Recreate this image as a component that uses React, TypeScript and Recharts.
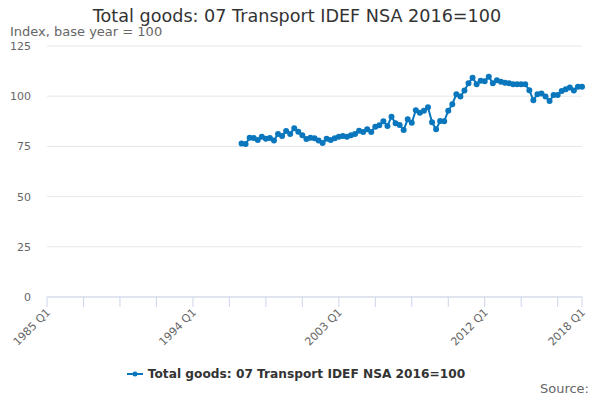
import { LineChart, Line, XAxis, YAxis, CartesianGrid, Legend } from "recharts";

const seriesName = "Total goods: 07 Transport IDEF NSA 2016=100";

// quarters counted from 1985 Q1; series starts 1997 Q1
const firstYear = 1985;
const startIndex = 48;

const values = [
  76.5, 76.2, 79.3, 79.2, 78.2, 79.8, 78.8, 79.2, 77.9, 81.2,
  80.2, 82.7, 81.2, 84.0, 82.3, 80.5, 78.7, 79.3, 79.0, 77.9,
  76.7, 78.8, 78.2, 79.0, 79.8, 80.2, 79.8, 80.5, 81.2, 82.8,
  82.2, 83.5, 82.2, 84.8, 85.5, 87.5, 85.2, 89.8, 86.5, 85.7,
  83.2, 88.5, 86.8, 93.0, 91.8, 92.8, 94.5, 87.0, 83.5, 87.6,
  87.5, 92.8, 96.0, 101.0, 99.8, 102.8, 106.4, 109.2, 106.0, 107.7,
  107.5, 109.7, 106.4, 108.0, 107.2, 106.7, 106.4, 105.9, 105.9, 105.9,
  106.0, 103.0, 98.0, 101.0, 101.4, 99.8, 97.6, 100.6, 100.6, 102.6,
  103.4, 104.3, 102.9, 104.7, 104.7,
];

const xTicks = [0, 9, 18, 27, 36, 45, 54, 63, 72, 81, 90, 99, 108, 117, 126, 132];
const xLabelled = [0, 36, 72, 108, 132];
const yTicks = [0, 25, 50, 75, 100, 125];

const lineColor = "#0a77bd";

const quarterLabel = (q: number) => `${firstYear + Math.floor(q / 4)} Q${(q % 4) + 1}`;

const data = values.map((v, i) => ({ q: startIndex + i, value: v }));

const font = "'DejaVu Sans', sans-serif";

function XTick(props: any) {
  const { x, y, payload } = props;
  if (!xLabelled.includes(payload.value)) return null;
  return (
    <text
      x={x + 4}
      y={y + 4}
      textAnchor="end"
      fill="#666"
      fontSize={11}
      fontFamily={font}
      transform={`rotate(-45 ${x + 4} ${y + 4})`}
    >
      {quarterLabel(payload.value)}
    </text>
  );
}

function LegendContent(props: any) {
  const { payload } = props;
  return (
    <div style={{ display: "flex", justifyContent: "center", alignItems: "center" }}>
      {(payload || []).map((p: any) => (
        <div key={p.value} style={{ display: "flex", alignItems: "center" }}>
          <svg width={16} height={10} style={{ marginRight: 5 }}>
            <line x1={0} y1={5} x2={16} y2={5} stroke={lineColor} strokeWidth={2} />
            <circle cx={8} cy={5} r={2.5} fill={lineColor} />
          </svg>
          <span style={{ color: "#333", fontWeight: "bold", fontSize: 12.2, fontFamily: font }}>{p.value}</span>
        </div>
      ))}
    </div>
  );
}

export default function App() {
  return (
    <div style={{ position: "absolute", left: 0, top: 0, width: 600, height: 400, background: "#fff", fontFamily: font }}>
      <div style={{ position: "absolute", left: 0, width: 594, top: 6, textAlign: "center", fontSize: 17.6, color: "#333" }}>
        Total goods: 07 Transport IDEF NSA 2016=100
      </div>
      <div style={{ position: "absolute", left: 10, top: 24, fontSize: 13, color: "#666" }}>
        Index, base year = 100
      </div>
      <LineChart width={600} height={400} data={data} margin={{ top: 46, right: 18, left: 10, bottom: 12 }}>
        <CartesianGrid vertical={false} stroke="#e6e6e6" />
        <XAxis
          dataKey="q"
          type="number"
          domain={[0, 132]}
          ticks={xTicks}
          interval={0}
          tick={<XTick />}
          tickSize={10}
          tickLine={{ stroke: "#ccd6eb" }}
          axisLine={{ stroke: "#ccd6eb" }}
          height={60}
        />
        <YAxis
          domain={[0, 125]}
          ticks={yTicks}
          width={37}
          axisLine={false}
          tickLine={false}
          tickMargin={10}
          tick={{ fill: "#666", fontSize: 11, fontFamily: font }}
        />
        <Legend verticalAlign="bottom" height={31} content={<LegendContent />} wrapperStyle={{ bottom: 2 }} />
        <Line
          name={seriesName}
          dataKey="value"
          stroke={lineColor}
          strokeWidth={2}
          dot={{ r: 2, fill: lineColor, stroke: lineColor }}
          isAnimationActive={false}
        />
      </LineChart>
      <div style={{ position: "absolute", right: 11, top: 381, fontSize: 13, color: "#666" }}>Source:</div>
    </div>
  );
}
